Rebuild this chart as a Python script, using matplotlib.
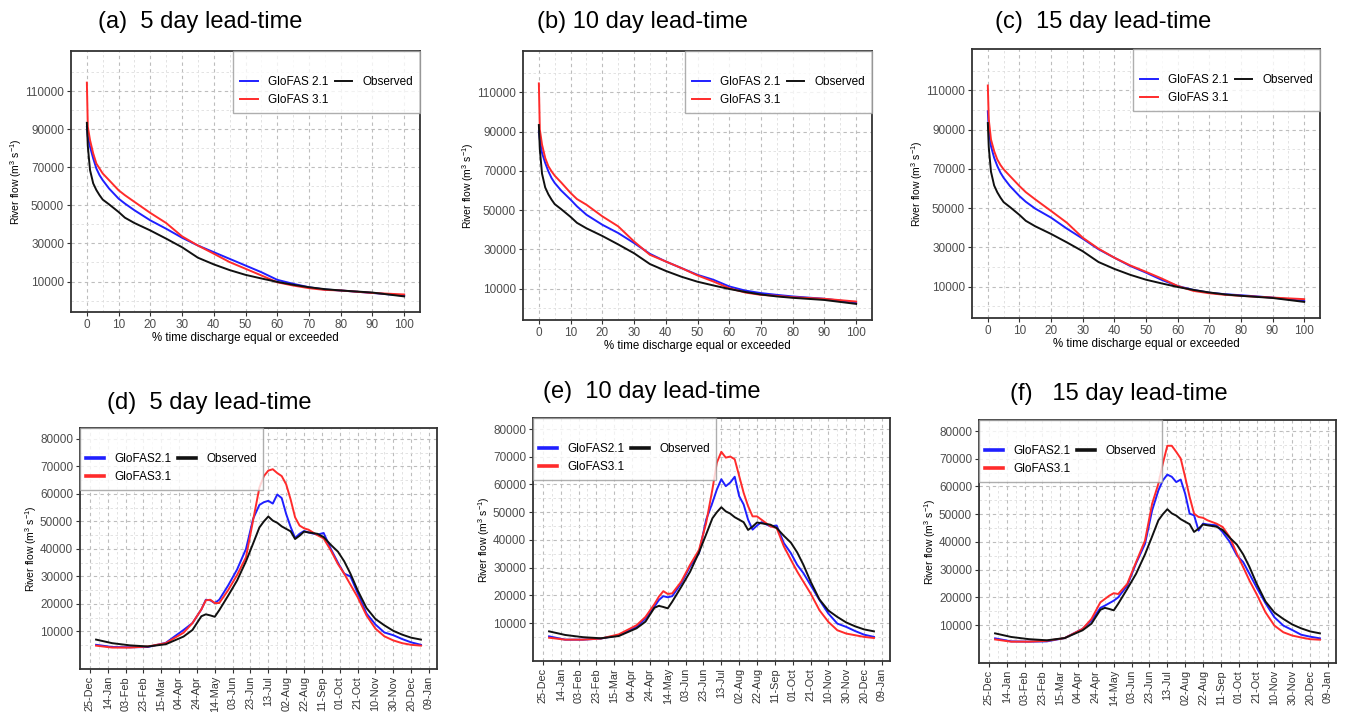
"""GloFAS 2.1 / 3.1 vs observed: flow duration curves (top) and mean hydrographs (bottom)."""
import matplotlib

matplotlib.use("Agg")
import matplotlib.pyplot as plt  # noqa: E402
import numpy as np  # noqa: E402
import pandas as pd  # noqa: E402

plt.rcParams["font.family"] = ["Liberation Sans", "DejaVu Sans"]
plt.rcParams["mathtext.fontset"] = "custom"
plt.rcParams["mathtext.rm"] = "Liberation Sans"
plt.rcParams["mathtext.default"] = "regular"

BLUE = "#1f1fff"
RED = "#ff2b2b"
BLACK = "#111111"
FRAME = "#333333"
TICK_TXT = "#4d4d4d"

# ---- flow duration curves (% time equalled or exceeded -> m3/s) ----
EXCEED_PCT = [0, 0.3, 1, 2, 3, 4, 5, 7, 10, 12, 15, 20, 25, 30, 35, 40, 45, 50, 55,
              60, 65, 70, 75, 80, 90, 100]
FDC_OBS = [93300, 81000, 68500, 61500, 58000, 55300, 53000, 50500, 46500, 43500, 40700,
           36800, 32500, 28000, 22500, 19000, 16000, 13500, 11600, 9800, 8300, 7000,
           6000, 5300, 4200, 2200]
FDC_A_G21 = [91200, 86000, 80700, 74600, 69300, 65800, 63200, 58800, 53500, 50900, 47400,
             42100, 37700, 33000, 28900, 25400, 21900, 18400, 14900, 10900, 8800, 7000,
             5800, 5300, 4000, 2600]
FDC_A_G31 = [114400, 91200, 84200, 77200, 71900, 69300, 66700, 63200, 57900, 55300, 51800,
             46000, 40700, 33700, 28900, 24600, 20200, 16700, 13200, 9600, 7900, 6500,
             5600, 5300, 4000, 3200]
FDC_B_G21 = [90100, 85900, 79100, 74000, 69700, 66300, 63800, 60000, 55300, 51900, 47600,
             42500, 38300, 33200, 27700, 23800, 20400, 17000, 14500, 11100, 9000, 7700,
             6800, 6000, 4800, 2900]
FDC_B_G31 = [114500, 91000, 83300, 76500, 72300, 69700, 67500, 64100, 58700, 55600, 52700,
             46800, 41700, 34000, 27200, 23800, 20400, 16700, 13600, 10200, 8000, 6800,
             6300, 5600, 4800, 3400]
FDC_C_G21 = [99300, 90000, 81500, 75600, 71400, 68000, 65400, 61200, 56100, 53200, 49700,
             45100, 39500, 34400, 29000, 24700, 20500, 17100, 13400, 10300, 8300, 6900,
             6100, 5600, 4400, 2700]
FDC_C_G31 = [112400, 95100, 84900, 79000, 74700, 71900, 69700, 66300, 61200, 58100, 54400,
             48500, 42500, 34900, 29300, 24700, 20800, 17500, 14100, 10300, 7800, 6600,
             5800, 5300, 4400, 3600]

# ---- mean daily hydrographs (m3/s) ----
HYDRO_DATES = ["2019-01-01", "2019-01-19", "2019-02-08", "2019-02-28", "2019-03-20",
               "2019-04-09", "2019-04-19", "2019-04-29", "2019-05-04", "2019-05-09",
               "2019-05-14", "2019-05-19", "2019-05-29", "2019-06-08", "2019-06-18",
               "2019-06-26", "2019-07-03", "2019-07-08", "2019-07-13", "2019-07-18",
               "2019-07-23", "2019-07-28", "2019-08-02", "2019-08-07", "2019-08-12",
               "2019-08-17", "2019-08-22", "2019-08-27", "2019-09-06", "2019-09-13",
               "2019-09-21", "2019-09-29", "2019-10-06", "2019-10-13", "2019-10-21",
               "2019-10-31", "2019-11-10", "2019-11-20", "2019-11-30", "2019-12-10",
               "2019-12-20", "2019-12-31"]
HYD_OBS = [7000, 5700, 4900, 4500, 5300, 8100, 10500, 15500, 16200, 15800, 15300, 17700,
           23000, 28500, 35500, 42000, 47800, 50000, 51800, 50300, 49500, 48200, 47300,
           46400, 43600, 44800, 46300, 46000, 45500, 44300, 41500, 39000, 35500, 31000,
           25000, 18500, 14500, 12200, 10200, 8800, 7700, 7000]
HYD_D_G21 = [5100, 4300, 4200, 4300, 5800, 10500, 13000, 18000, 21500, 21300, 20300, 21500,
             26700, 32500, 40000, 51000, 56000, 57000, 57500, 56500, 59800, 58500, 52700,
             48000, 44000, 45500, 46500, 46000, 45200, 45800, 40000, 35000, 31000, 30000,
             24000, 16500, 12500, 9600, 8600, 7200, 6000, 5100]
HYD_D_G31 = [4800, 4100, 4100, 4500, 5700, 9500, 13000, 18000, 21300, 21500, 20300, 20300,
             25000, 30500, 37000, 50500, 62300, 66500, 68500, 69000, 67600, 66500, 63500,
             58000, 51500, 48500, 47500, 47000, 45000, 43800, 39500, 34500, 31000, 27000,
             22500, 15800, 11000, 8200, 6700, 5700, 5100, 4800]
HYD_E_G21 = [5200, 4000, 4000, 4400, 5600, 8600, 11600, 15900, 18300, 19700, 19300, 19700,
             24300, 30400, 35200, 47300, 53400, 58200, 61900, 59400, 60700, 62800, 55800,
             52800, 47300, 43700, 45200, 46400, 44900, 45200, 38900, 35200, 31000, 28000,
             23700, 18300, 13400, 9800, 8600, 7100, 5800, 5000]
HYD_E_G31 = [4700, 4000, 4000, 4400, 5900, 9200, 12200, 16800, 19500, 21500, 20500, 20700,
             24900, 31000, 36400, 46100, 58200, 67900, 71800, 69700, 70100, 69100, 63100,
             57000, 52200, 48500, 48500, 47300, 44900, 44300, 37700, 32800, 28600, 24900,
             20700, 14600, 10400, 7400, 6200, 5600, 5000, 4600]
HYD_F_G21 = [5200, 4100, 4000, 4100, 5300, 8600, 11600, 16200, 17000, 17900, 18800, 20000,
             24200, 32300, 39300, 51400, 58600, 62200, 64300, 63500, 61600, 62500, 57400,
             50200, 49600, 44100, 46600, 46300, 46000, 43500, 40000, 35100, 32700, 28500,
             23600, 17900, 12800, 9800, 8200, 6500, 5800, 5200]
HYD_F_G31 = [4800, 4000, 4000, 4300, 5300, 8600, 12200, 18200, 19400, 20600, 21500, 21200,
             24800, 32700, 40500, 53800, 61000, 68300, 74700, 74700, 72500, 70100, 63400,
             56200, 50200, 49000, 48700, 47800, 46600, 45400, 41700, 35700, 30900, 26100,
             21200, 14600, 9800, 7400, 6200, 5500, 4900, 4700]

FDC_PANELS = [
    ("(a)  5 day lead-time", FDC_A_G21, FDC_A_G31),
    ("(b) 10 day lead-time", FDC_B_G21, FDC_B_G31),
    ("(c)  15 day lead-time", FDC_C_G21, FDC_C_G31),
]
HYD_PANELS = [
    ("(d)  5 day lead-time", HYD_D_G21, HYD_D_G31),
    ("(e)  10 day lead-time", HYD_E_G21, HYD_E_G31),
    ("(f)   15 day lead-time", HYD_F_G21, HYD_F_G31),
]

W, H = 1345, 712
# axes boxes in pixels: left, top, right, bottom
FDC_BOX = [(71, 51, 420, 312), (523, 51, 872, 320), (972, 49, 1320, 318)]
HYD_BOX = [(80, 428, 437, 669), (533, 418, 890, 661), (979, 420, 1336, 663)]
FDC_TITLE_XY = [(200, 22), (642, 22), (1103, 22)]
HYD_TITLE_XY = [(209, 403), (652, 392), (1119, 394)]

YLABEL = "River flow (m$^{3}$ s$^{-1}$)"


def _add_axes(fig, box):
    l, t, r, b = box
    return fig.add_axes([l / W, 1 - b / H, (r - l) / W, (b - t) / H])


def _style(ax):
    for sp in ax.spines.values():
        sp.set_color(FRAME)
        sp.set_linewidth(1.3)
    ax.grid(True, which="major", color="#bdbdbd", linestyle=(0, (3, 3)), linewidth=0.8)
    ax.grid(True, which="minor", color="#dedede", linestyle=(0, (3, 3)), linewidth=0.6)
    ax.set_axisbelow(True)
    ax.tick_params(which="major", length=3, width=0.8, color=FRAME,
                   labelsize=8.5, labelcolor=TICK_TXT, pad=2)
    ax.tick_params(which="minor", length=0)
    ax.set_ylabel(YLABEL, fontsize=7.5, labelpad=0.5)


def _legend(ax, labels, loc, lw):
    leg = ax.legend(labels=labels, loc=loc, ncol=2, frameon=True, fancybox=False,
                    borderaxespad=0, fontsize=8.5, title=" ", title_fontsize=9,
                    handlelength=1.5, handletextpad=0.9, columnspacing=0.5,
                    labelspacing=0.55, borderpad=0.55)
    leg.get_frame().set_edgecolor("#9a9a9a")
    leg.get_frame().set_linewidth(1.0)
    for line in leg.get_lines():
        line.set_linewidth(lw)
    return leg


def _plot_fdc(fig, box, title_xy, title, g21, g31):
    ax = _add_axes(fig, box)
    ax.plot(EXCEED_PCT, g21, color=BLUE, lw=1.4)
    ax.plot(EXCEED_PCT, g31, color=RED, lw=1.4)
    ax.plot(EXCEED_PCT, FDC_OBS, color=BLACK, lw=1.4)
    ax.set_xlim(-5, 105)
    ax.set_ylim(-6000, 131000)
    ax.set_xticks(np.arange(0, 101, 10))
    ax.set_xticks(np.arange(5, 100, 10), minor=True)
    ax.set_yticks(np.arange(10000, 110001, 20000))
    ax.set_yticks(np.arange(0, 120001, 20000), minor=True)
    ax.set_xlabel("% time discharge equal or exceeded", fontsize=8.3, labelpad=1)
    _style(ax)
    _legend(ax, ["GloFAS 2.1", "GloFAS 3.1", "Observed"], "upper right", 1.4)
    fig.text(title_xy[0] / W, 1 - title_xy[1] / H, title, ha="center", va="center",
             fontsize=17)


def _plot_hydro(fig, box, title_xy, title, g21, g31):
    ax = _add_axes(fig, box)
    dates = pd.to_datetime(HYDRO_DATES)
    ax.plot(dates, g21, color=BLUE, lw=1.4)
    ax.plot(dates, g31, color=RED, lw=1.4)
    ax.plot(dates, HYD_OBS, color=BLACK, lw=1.4)
    ticks = pd.date_range("2018-12-25", periods=20, freq="20D")
    ax.set_xticks(ticks)
    ax.set_xticklabels([d.strftime("%d-%b") for d in ticks], rotation=90)
    ax.set_xticks(ticks[:-1] + pd.Timedelta(days=10), minor=True)
    ax.set_xlim(pd.Timestamp("2018-12-14"), pd.Timestamp("2020-01-18"))
    ax.set_ylim(-3700, 84000)
    ax.set_yticks(np.arange(10000, 80001, 10000))
    ax.set_yticks(np.arange(5000, 80001, 10000), minor=True)
    _style(ax)
    ax.tick_params(axis="x", which="major", labelsize=7.8, labelcolor="#333333")
    _legend(ax, ["GloFAS2.1", "GloFAS3.1", "Observed"], "upper left", 2.6)
    fig.text(title_xy[0] / W, 1 - title_xy[1] / H, title, ha="center", va="center",
             fontsize=17)


def main() -> None:
    fig = plt.figure(figsize=(W / 100, H / 100), dpi=100)
    for box, xy, (title, g21, g31) in zip(FDC_BOX, FDC_TITLE_XY, FDC_PANELS):
        _plot_fdc(fig, box, xy, title, g21, g31)
    for box, xy, (title, g21, g31) in zip(HYD_BOX, HYD_TITLE_XY, HYD_PANELS):
        _plot_hydro(fig, box, xy, title, g21, g31)
    fig.savefig("out.png", dpi=100)
    plt.close(fig)


if __name__ == "__main__":
    main()
